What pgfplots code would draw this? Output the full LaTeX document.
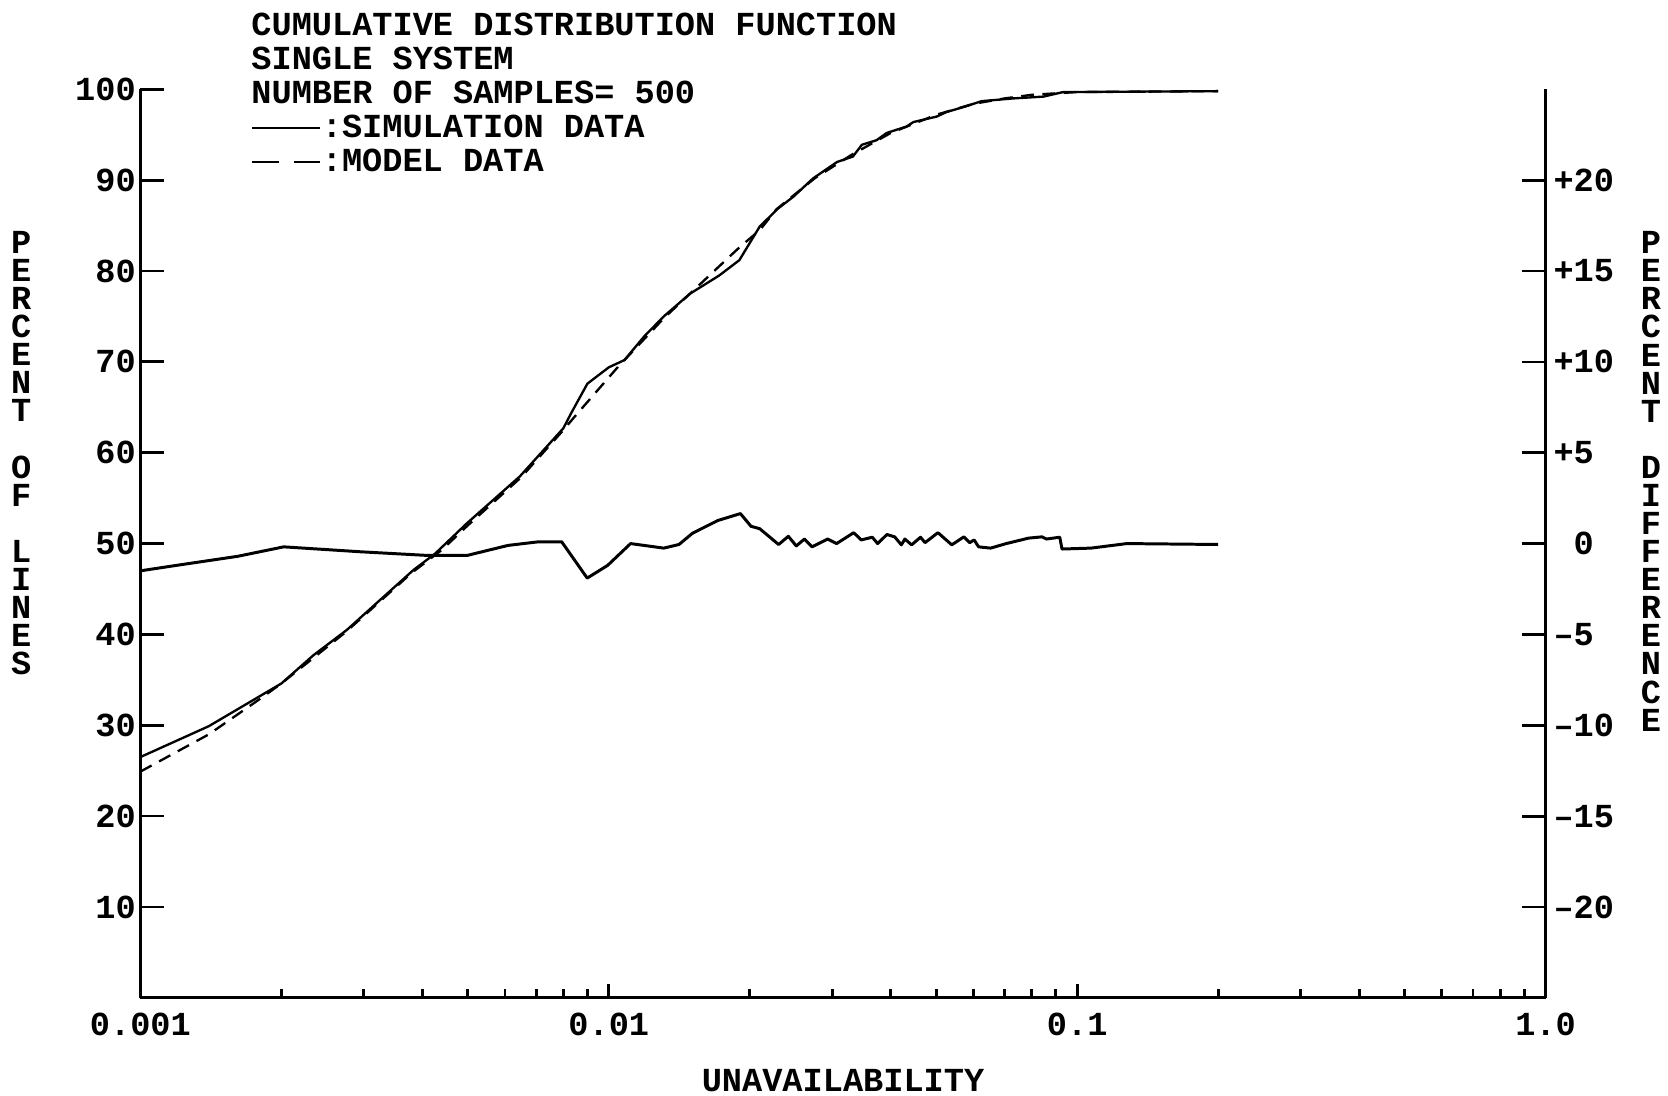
\documentclass[border=0pt]{standalone}
\usepackage{fontspec}
\usepackage{pgfplots}
\pgfplotsset{compat=1.18}
\newfontfamily\plotfont{Liberation Mono}
\newcommand\pf{\plotfont\bfseries\fontsize{15.8pt}{16.1pt}\selectfont}
\newcommand\vf{\plotfont\bfseries\fontsize{15.8pt}{13.2pt}\selectfont}
\pgfplotsset{
  every non boxed x axis/.append style={x axis line style={-}, xtick align=inside},
  every non boxed y axis/.append style={y axis line style={-}, ytick align=inside},
  every outer x axis line/.append style={-},
  every outer y axis line/.append style={-},
}
\begin{document}
\begin{tikzpicture}
% ---------- main axis: x axis, curves, legend ----------
\begin{axis}[
  at={(0,0)}, anchor=south west,
  scale only axis, width=660.5pt, height=427pt,
  xmode=log, xmin=0.001, xmax=1,
  axis line style={-, line width=1.5pt},
  tick align=inside,
  tick style={black, line width=1.3pt},
  ymin=0, ymax=100,
  axis x line=bottom, axis y line=left,
  ytick=\empty,
  xtick={0.001,0.01,0.1,1},
  xticklabels={0.001,0.01,0.1,1.0},
  minor xtick={0.002,0.003,0.004,0.005,0.006,0.007,0.008,0.009,
               0.02,0.03,0.04,0.05,0.06,0.07,0.08,0.09,
               0.2,0.3,0.4,0.5,0.6,0.7,0.8,0.9},
  major tick length=6.5pt, minor tick length=4.2pt,
  xticklabel style={font=\pf, anchor=north, inner sep=0pt, yshift=-7pt},
  xlabel={UNAVAILABILITY},
  every axis x label/.style={at={(rel axis cs:0.5,-0.0785)}, anchor=north, inner sep=0pt, font=\pf},
  clip=false,
  legend cell align=left,
  legend style={at={(rel axis cs:0.0787,0.9712)}, anchor=north west,
    draw=none, fill=none, inner sep=0pt, outer sep=0pt,
    row sep=3.7pt, column sep=0pt, font=\pf,
    nodes={inner sep=0pt, outer sep=0pt}},
]
% simulation data (solid)
\addplot[black, line width=1.1pt, line join=round,
  legend image code/.code={\draw[black, line width=1pt] (0pt,0pt) -- (32pt,0pt);}]
coordinates {
(0.001,26.5) (0.0014,29.9) (0.002,34.6) (0.00234,37.7) (0.00276,40.5)
(0.00325,43.8) (0.00383,47.1) (0.00426,48.9) (0.00497,52.2) (0.00646,57.4)
(0.0080,62.7) (0.0083,64.3) (0.0090,67.6) (0.0100,69.4) (0.0108,70.2)
(0.0119,72.8) (0.0131,75.0) (0.0149,77.5) (0.0172,79.5) (0.0190,81.2)
(0.0210,84.9) (0.0230,86.9) (0.0248,88.2) (0.0273,90.2) (0.0307,92.0)
(0.0332,92.6) (0.0347,93.9) (0.0373,94.4) (0.0392,95.2) (0.0432,95.9)
(0.0447,96.4) (0.0501,97.0) (0.0526,97.5) (0.0576,98.1) (0.0625,98.7)
(0.0730,99.0) (0.0847,99.2) (0.0933,99.7) (0.2,99.8)
};
\addlegendentry{:SIMULATION DATA}
% model data (dashed)
\addplot[black, line width=1.1pt, line join=round, dash pattern=on 6pt off 4pt,
  legend image code/.code={\draw[black, line width=1.3pt, dash pattern=on 12.5pt off 7pt] (0pt,0pt) -- (32pt,0pt);}]
coordinates {
(0.001,24.9) (0.0014,29.0) (0.0018,32.9) (0.002,34.6) (0.00275,40.3)
(0.0038,46.8) (0.0044,49.3) (0.005,52.0) (0.0065,57.3) (0.008,62.5)
(0.0084,63.8) (0.0104,69.3) (0.0131,74.8) (0.0157,78.6) (0.019,82.6)
(0.021,84.5) (0.0228,86.8) (0.0275,90.2) (0.033,92.8) (0.04,95.2)
(0.05,97.2) (0.06,98.4) (0.07,99.0) (0.08,99.4) (0.1,99.7) (0.2,99.8)
};
\addlegendentry{:MODEL DATA}
\node[anchor=north west, align=left, inner sep=0pt, font=\pf]
  at (rel axis cs:0.0787,1.0848)
  {CUMULATIVE DISTRIBUTION FUNCTION\\SINGLE SYSTEM\\NUMBER OF SAMPLES= 500};
\path (rel axis cs:-0.09992,-0.10773) rectangle (rel axis cs:1.08705,1.09836);
\end{axis}
% ---------- left y axis ----------
\begin{axis}[
  at={(0,0)}, anchor=south west,
  scale only axis, width=660.5pt, height=427pt,
  xmode=log, xmin=0.001, xmax=1,
  axis line style={-, line width=1.5pt},
  tick align=inside,
  tick style={black, line width=1.3pt},
  ymin=0, ymax=100,
  axis x line=none, axis y line=left,
  ytick={10,20,30,40,50,60,70,80,90,100},
  yticklabels={10,20,30,40,50,60,70,80,90,100},
  major tick length=11pt,
  yticklabel style={font=\pf, anchor=east, inner sep=0pt, xshift=-2pt},
  ylabel={P\\E\\R\\C\\E\\N\\T\\ \mbox{}\\ O\\F\\ \mbox{}\\ L\\I\\N\\E\\S},
  every axis y label/.style={at={(rel axis cs:-0.0848,0.5995)}, anchor=center,
    inner sep=0pt, align=center, font=\vf},
]
\end{axis}
% ---------- right y axis: percent difference ----------
\begin{axis}[
  at={(0,0)}, anchor=south west,
  scale only axis, width=660.5pt, height=427pt,
  xmode=log, xmin=0.001, xmax=1,
  axis line style={-, line width=1.5pt},
  tick align=inside,
  tick style={black, line width=1.3pt},
  ymin=-25, ymax=25,
  axis x line=none, axis y line=right,
  ytick={-20,-15,-10,-5,0,5,10,15,20},
  yticklabels={–20,–15,–10,–5,\phantom{+}0,+5,+10,+15,+20},
  major tick length=11pt,
  yticklabel style={font=\pf, anchor=west, inner sep=0pt, xshift=3.5pt},
  ylabel={P\\E\\R\\C\\E\\N\\T\\ \mbox{}\\ D\\I\\F\\F\\E\\R\\E\\N\\C\\E},
  every axis y label/.style={at={(rel axis cs:1.0749,0.5685)}, anchor=center,
    inner sep=0pt, align=center, font=\vf},
  clip=false,
]
\addplot[black, line width=1.4pt, line join=round]
coordinates {
(0.001,-1.5) (0.001194,-1.2) (0.001614,-0.7) (0.002023,-0.18) (0.002945,-0.45)
(0.004081,-0.65) (0.004988,-0.65) (0.006096,-0.1) (0.007088,0.1) (0.007932,0.1)
(0.008993,-1.9) (0.009943,-1.2) (0.01113,0) (0.01310,-0.25) (0.01412,-0.05)
(0.01509,0.57) (0.01709,1.27) (0.01910,1.65) (0.02012,0.95) (0.02099,0.82)
(0.02304,-0.05) (0.02417,0.4) (0.02513,-0.13) (0.02616,0.25) (0.02715,-0.18)
(0.02932,0.25) (0.03064,0) (0.03333,0.6) (0.03459,0.2) (0.03652,0.35)
(0.03749,0) (0.03925,0.5) (0.04076,0.37) (0.04213,-0.07) (0.04286,0.25)
(0.04430,-0.07) (0.04629,0.35) (0.04732,0.05) (0.05043,0.6) (0.05397,-0.07)
(0.05727,0.37) (0.05895,0.05) (0.06025,0.2) (0.06158,-0.18) (0.06533,-0.25)
(0.07055,0) (0.07873,0.3) (0.08409,0.37) (0.08597,0.25) (0.09177,0.35)
(0.09279,-0.3) (0.1070,-0.25) (0.1276,0) (0.2,-0.05)
};
\end{axis}
\end{tikzpicture}
\end{document}
